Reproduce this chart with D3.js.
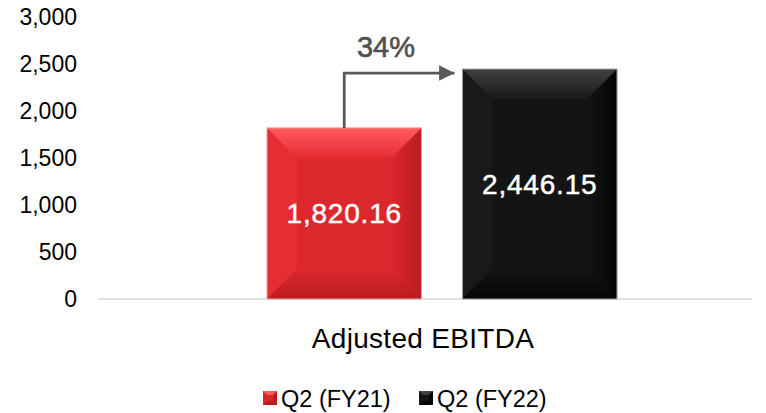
<!DOCTYPE html>
<html lang="en">
<head>
    <meta charset="UTF-8">
    <title>Adjusted EBITDA</title>
    <script src="https://d3js.org/d3.v7.min.js"></script>
    <style>
        body{ margin:0; background:#fff; }
        text{ font-family:"Liberation Sans", Arial, sans-serif; }
    </style>
</head>
<body>
<svg id="chart" width="766" height="413"></svg>

<script>
    // data
    let categories = ["Adjusted EBITDA"];
    let series = ["Q2 (FY21)", "Q2 (FY22)"];
    let values = [1820.16, 2446.15];
    let yTicks = [0, 500, 1000, 1500, 2000, 2500, 3000];
    let growthLabel = "34%";

    let colors = {
        "Q2 (FY21)": {base:"#dc272d", light:"#ff5b60", mid:"#e52d33", dark:"#b81c21", edge:"#e8a0a2"},
        "Q2 (FY22)": {base:"#141414", light:"#404040", mid:"#191919", dark:"#050505", edge:"#9a9a9a"}
    };

    let svg = d3.select("#chart");
    let defs = svg.append("defs");

    let y = d3.scaleLinear().domain([0, 3000]).range([299, 17]);
    let x0 = d3.scaleBand().domain(categories).range([98, 752]);
    let x1 = d3.scaleBand().domain(series).range([267, 617]).paddingInner(0.21);

    // y tick labels (no axis line)
    let yAxis = d3.axisLeft(y).tickValues(yTicks).tickFormat(d3.format(",")).tickSize(0).tickPadding(0);
    let gy = svg.append("g").attr("transform", "translate(77,0)").call(yAxis);
    gy.select(".domain").remove();
    gy.selectAll("text")
        .attr("fill", "#000")
        .style("font-size", "23px")
        .style("font-family", "'Liberation Sans', Arial, sans-serif");

    // baseline
    svg.append("line")
        .attr("x1", x0.range()[0]).attr("x2", x0.range()[1])
        .attr("y1", y(0)).attr("y2", y(0))
        .attr("stroke", "#d9d9d9").attr("stroke-width", 1.5);

    // gradients for bevel faces
    series.forEach(function (s, i){
        let c = colors[s];
        let gt = defs.append("linearGradient").attr("id", "top" + i)
            .attr("x1", 0).attr("y1", 0).attr("x2", 0).attr("y2", 1);
        gt.append("stop").attr("offset", "0%").attr("stop-color", c.light);
        gt.append("stop").attr("offset", "100%").attr("stop-color", c.mid);
        let gr = defs.append("linearGradient").attr("id", "right" + i)
            .attr("x1", 0).attr("y1", 0).attr("x2", 1).attr("y2", 0);
        gr.append("stop").attr("offset", "0%").attr("stop-color", c.base);
        gr.append("stop").attr("offset", "100%").attr("stop-color", c.dark);
        let gb = defs.append("linearGradient").attr("id", "bottom" + i)
            .attr("x1", 0).attr("y1", 0).attr("x2", 0).attr("y2", 1);
        gb.append("stop").attr("offset", "0%").attr("stop-color", c.base);
        gb.append("stop").attr("offset", "100%").attr("stop-color", c.dark);
    });

    let bev = 30;
    let cx = x0(categories[0]);
    let bars = svg.append("g");

    series.forEach(function (s, i){
        let c = colors[s];
        let bx = x1(s), bw = x1.bandwidth();
        let by = y(values[i]), bh = y(0) - y(values[i]);
        let b = Math.min(bev, bw / 2, bh / 2);
        let g = bars.append("g");
        g.append("rect").attr("x", bx).attr("y", by).attr("width", bw).attr("height", bh)
            .attr("fill", c.base);
        // left face
        g.append("path").attr("d", `M${bx},${by}L${bx + b},${by + b}L${bx + b},${by + bh - b}L${bx},${by + bh}Z`)
            .attr("fill", c.mid);
        // right face
        g.append("path").attr("d", `M${bx + bw},${by}L${bx + bw - b},${by + b}L${bx + bw - b},${by + bh - b}L${bx + bw},${by + bh}Z`)
            .attr("fill", "url(#right" + i + ")");
        // bottom face
        g.append("path").attr("d", `M${bx},${by + bh}L${bx + b},${by + bh - b}L${bx + bw - b},${by + bh - b}L${bx + bw},${by + bh}Z`)
            .attr("fill", "url(#bottom" + i + ")");
        // top face
        g.append("path").attr("d", `M${bx},${by}L${bx + b},${by + b}L${bx + bw - b},${by + b}L${bx + bw},${by}Z`)
            .attr("fill", "url(#top" + i + ")");
        g.append("rect").attr("x", bx).attr("y", by).attr("width", bw).attr("height", bh)
            .attr("fill", "none").attr("stroke", c.edge).attr("stroke-width", 1);

        // value label
        g.append("text")
            .attr("x", bx + bw / 2)
            .attr("y", (by + y(0)) / 2 + 10)
            .attr("text-anchor", "middle")
            .attr("fill", "#fff")
            .attr("stroke", "#fff").attr("stroke-width", 0.5)
            .style("font-size", "28px")
            .style("letter-spacing", "0.8px")
            .text(d3.format(",.2f")(values[i]));
    });

    // growth arrow
    let ax = x1(series[0]) + x1.bandwidth() / 2;
    let ay = y(values[1]) + 4;
    let tipX = x1(series[1]) - 8;
    defs.append("marker").attr("id", "arrowhead")
        .attr("viewBox", "0 0 10 10").attr("refX", 10).attr("refY", 5)
        .attr("markerWidth", 5.5).attr("markerHeight", 5.5).attr("markerUnits", "strokeWidth")
        .attr("orient", "auto")
        .append("path").attr("d", "M0,0L10,5L0,10Z").attr("fill", "#595959");
    svg.append("path")
        .attr("d", `M${ax},${y(values[0])}L${ax},${ay}L${tipX},${ay}`)
        .attr("fill", "none").attr("stroke", "#595959").attr("stroke-width", 2.8)
        .attr("marker-end", "url(#arrowhead)");
    svg.append("text")
        .attr("x", 386).attr("y", 57)
        .attr("text-anchor", "middle")
        .attr("fill", "#505050")
        .attr("stroke", "#505050").attr("stroke-width", 0.6)
        .style("font-size", "29px")
        .text(growthLabel);

    // category label
    svg.append("text")
        .attr("x", cx + x0.bandwidth() / 2 - 2).attr("y", 348)
        .attr("text-anchor", "middle")
        .attr("fill", "#000")
        .style("font-size", "28px")
        .style("letter-spacing", "0.3px")
        .text(categories[0]);

    // legend
    let legendX = [263, 419];
    let legend = svg.append("g");
    series.forEach(function (s, i){
        let c = colors[s];
        let lg = legend.append("g").attr("transform", `translate(${legendX[i]},391)`);
        let m = 14, mb = 4;
        lg.append("rect").attr("width", m).attr("height", m).attr("fill", c.base);
        lg.append("path").attr("d", `M0,0L${mb},${mb}L${m - mb},${mb}L${m},0Z`).attr("fill", c.light);
        lg.append("path").attr("d", `M${m},0L${m - mb},${mb}L${m - mb},${m - mb}L${m},${m}Z`).attr("fill", c.dark);
        lg.append("path").attr("d", `M0,${m}L${mb},${m - mb}L${m - mb},${m - mb}L${m},${m}Z`).attr("fill", c.dark);
        lg.append("text").attr("x", m + 4).attr("y", 16)
            .attr("fill", "#000")
            .style("font-size", "23.5px")
            .text(s);
    });
</script>
</body>
</html>
